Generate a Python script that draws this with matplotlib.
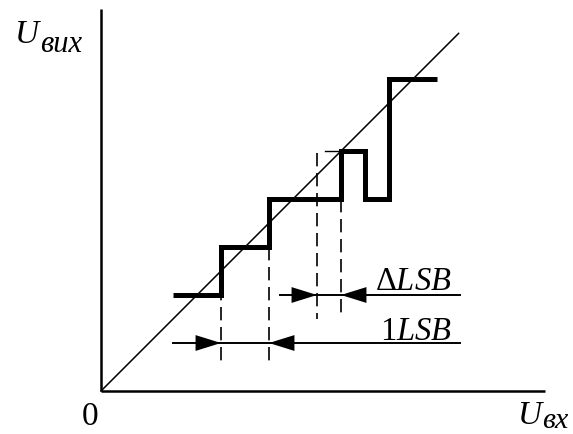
import matplotlib
matplotlib.use("Agg")
import matplotlib.pyplot as plt
import numpy as np

plt.rcParams['mathtext.fontset'] = 'custom'
plt.rcParams['mathtext.rm'] = 'Liberation Serif'
plt.rcParams['mathtext.it'] = 'Liberation Serif:italic'
plt.rcParams['font.family'] = ['Liberation Serif', 'DejaVu Serif']

# ---- data (units of 1 LSB) ----
step_edges = [1.5, 2.5, 3.5, 5.0, 5.5, 6.0, 7.0]     # input thresholds
step_levels = [2.0, 3.0, 4.0, 5.0, 4.0, 6.5]         # output levels
ideal_end = 7.45                                      # ideal transfer line end
lsb_arrow_y = 1.0
dlsb_arrow_y = 2.0
lsb_pair = (2.5, 3.5)       # thresholds marking 1 LSB
dlsb_pair = (4.5, 5.0)      # thresholds marking delta LSB
x_axis_end = 9.25
y_axis_end = 7.96

fig = plt.figure(figsize=(5.73, 4.35), dpi=100)
ax = fig.add_axes([0, 0, 1, 1])
ax.set_xlim(-101/48, (573-101)/48)
ax.set_ylim(-(435-392)/48, 392/48)
ax.axis('off')

# axes
ax.plot([0, 0], [0, y_axis_end], color='black', lw=1.8, solid_capstyle='butt')
ax.plot([0, x_axis_end], [0, 0], color='black', lw=1.8, solid_capstyle='butt')

# ideal line
ax.plot([0, ideal_end], [0, ideal_end], color='black', lw=1.1)

# staircase
ax.stairs(step_levels, step_edges, baseline=None, color='black', lw=3.6,
          joinstyle='miter')

# thin top mark near delta step
ax.plot([4.67, dlsb_pair[1]], [step_levels[3], step_levels[3]], color='black', lw=1.0)

dash = (0, (8, 4))
# dashed verticals
ax.plot([lsb_pair[0]]*2, [step_levels[1], 0.63], color='black', lw=1.2, ls=dash)
ax.plot([lsb_pair[1]]*2, [step_levels[1], 0.60], color='black', lw=1.2, ls=dash)
ax.plot([dlsb_pair[0]]*2, [step_levels[3] - 0.05, 1.5], color='black', lw=1.2, ls=dash)
ax.plot([dlsb_pair[1]]*2, [step_levels[2], 1.56], color='black', lw=1.2, ls=dash)

# dimension lines
line_end = 7.48
ax.plot([step_edges[0], line_end], [lsb_arrow_y]*2, color='black', lw=1.4)
ax.plot([3.73, line_end], [dlsb_arrow_y]*2, color='black', lw=1.4)

hl = 0.53
hw = 0.165

def head(tip_x, y, direction):
    # direction +1: pointing right (from left), -1: pointing left (from right)
    base = tip_x - direction * hl
    ax.fill([tip_x, base, base], [y, y + hw, y - hw], color='black', lw=0)

head(lsb_pair[0], lsb_arrow_y, +1)
head(lsb_pair[1], lsb_arrow_y, -1)
head(dlsb_pair[0], dlsb_arrow_y, +1)
head(dlsb_pair[1], dlsb_arrow_y, -1)

# labels
fs = 23.5
ax.text(7.31, 2.125, r'$\Delta LSB$', ha='right', va='baseline', fontsize=fs)
ax.text(7.31, 1.085, r'$1LSB$', ha='right', va='baseline', fontsize=fs)

ax.text(-1.79, 7.27, 'U', ha='left', va='baseline', fontsize=24, style='italic')
ax.text(-1.27, 7.08, 'вих', ha='left', va='baseline', fontsize=22, style='italic')

ax.text(-0.40, -0.69, '0', ha='left', va='baseline', fontsize=24)

ax.text(8.68, -0.66, 'U', ha='left', va='baseline', fontsize=24, style='italic')
ax.text(9.18, -0.74, 'вх', ha='left', va='baseline', fontsize=21.5, style='italic')

fig.savefig('out.png', dpi=100)
